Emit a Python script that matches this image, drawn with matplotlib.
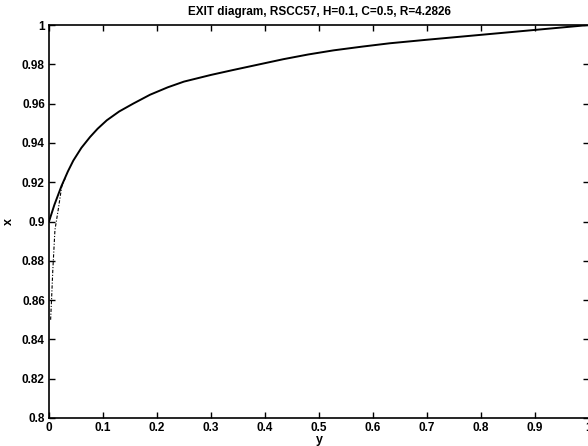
import matplotlib
matplotlib.use("Agg")
import matplotlib.pyplot as plt
from matplotlib.ticker import FuncFormatter

# Solid curve (EXIT curve)
solid_y = [0.0, 0.010, 0.023, 0.035, 0.045, 0.060, 0.076, 0.090, 0.107, 0.130,
           0.156, 0.187, 0.220, 0.250, 0.300, 0.341, 0.390, 0.434, 0.480, 0.527,
           0.580, 0.631, 0.700, 0.800, 0.900, 1.0]
solid_x = [0.900, 0.9085, 0.918, 0.9255, 0.9310, 0.9375, 0.9430, 0.9472, 0.9515, 0.9560,
           0.9600, 0.9645, 0.9683, 0.9712, 0.9746, 0.9771, 0.9800, 0.9826, 0.9850, 0.9871,
           0.9890, 0.9907, 0.9925, 0.9950, 0.9975, 1.0]

# Dash-dot curve (lower start)
dash_y = [0.003, 0.005, 0.007, 0.011, 0.017, 0.0235, 0.030]
dash_x = [0.850, 0.862, 0.875, 0.8957, 0.9059, 0.9177, 0.922]

title = "EXIT diagram, RSCC57, H=0.1, C=0.5, R=4.2826"
xticks = [0, 0.1, 0.2, 0.3, 0.4, 0.5, 0.6, 0.7, 0.8, 0.9, 1]
yticks = [0.8, 0.82, 0.84, 0.86, 0.88, 0.9, 0.92, 0.94, 0.96, 0.98, 1]

plt.rcParams['font.family'] = ['Liberation Sans', 'DejaVu Sans']
plt.rcParams['font.weight'] = 'bold'

fig = plt.figure(figsize=(5.88, 4.46), dpi=100)
ax = fig.add_axes([49/588, 1 - 418/446, 540/588, 393/446])

ax.plot(dash_y, dash_x, color='black', lw=0.8, ls=(0, (3, 1.5, 1, 1.5)))
ax.plot(solid_y, solid_x, color='black', lw=1.4,
        solid_joinstyle='round', solid_capstyle='round')

ax.set_xlim(0, 1)
ax.set_ylim(0.8, 1)
ax.set_xticks(xticks)
ax.set_yticks(yticks)
fmt = FuncFormatter(lambda v, p: ('%g' % round(v, 4)))
ax.xaxis.set_major_formatter(fmt)
ax.yaxis.set_major_formatter(fmt)
ax.tick_params(direction='in', length=4, width=1, labelsize=8.5,
               top=True, right=True, pad=3)
for lab in ax.get_xticklabels() + ax.get_yticklabels():
    lab.set_fontweight('bold')
for s in ax.spines.values():
    s.set_linewidth(1.2)

ax.set_title(title, fontsize=8.5, fontweight='bold', pad=7)
ax.set_xlabel('y', fontsize=9, fontweight='bold', labelpad=0)
ax.set_ylabel('x', fontsize=9, fontweight='bold', labelpad=5, rotation=90)

fig.savefig('out.png', dpi=100)
